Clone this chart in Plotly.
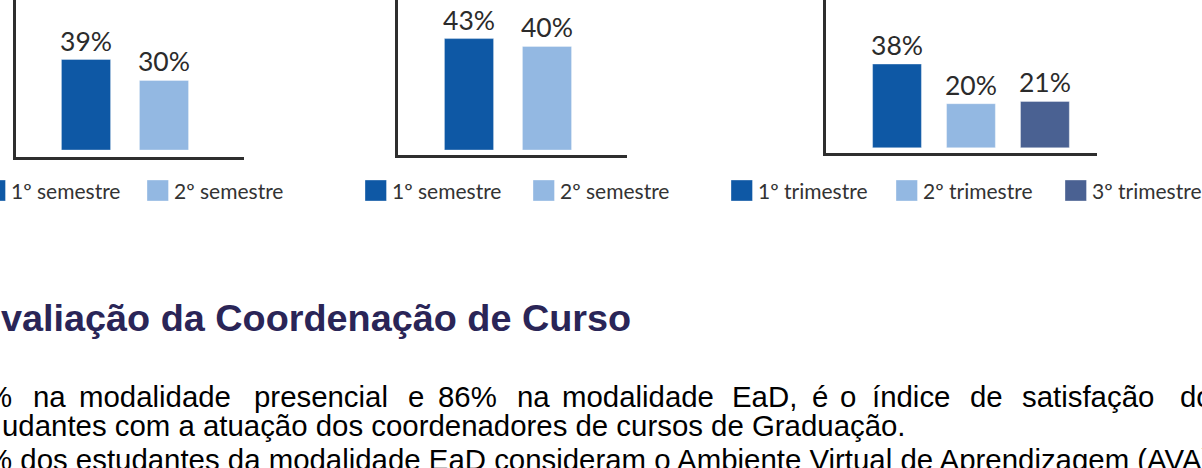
import plotly.graph_objects as go

# ---------------- data ----------------
semester_labels = ["1º semestre", "2º semestre"]
trimester_labels = ["1º trimestre", "2º trimestre", "3º trimestre"]
chart1_values = [39, 30]
chart2_values = [43, 40]
chart3_values = [38, 20, 21]
series_colors = ["#0E58A5", "#93B8E2", "#4A6192"]

heading_text = "valiação da Coordenação de Curso"
line1_words = ["%", "na", "modalidade", "presencial", "e", "86%", "na", "modalidade",
               "EaD,", "é", "o", "índice", "de", "satisfação", "dos"]
line2_text = "udantes com a atuação dos coordenadores de cursos de Graduação."
line3_text = "% dos estudantes da modalidade EaD consideram o Ambiente Virtual de Aprendizagem (AVA)"

# ---------------- layout helpers ----------------
W, H = 1202, 468


def fx(px):
    return px / W


def fy(py):
    return 1 - py / H


charts = [
    dict(values=chart1_values, labels=semester_labels, x0=15.5, x1=244, y1=156.5,
         xr=[-0.904, 2.026], yr=[-2.8, 64.66], bw=0.63, leg=[-16, 147]),
    dict(values=chart2_values, labels=semester_labels, x0=397.8, x1=627, y1=154.8,
         xr=[-0.913, 2.026], yr=[-1.85, 57.9], bw=0.63, leg=[365, 533]),
    dict(values=chart3_values, labels=trimester_labels, x0=825.7, x1=1096.7, y1=153,
         xr=[-0.964, 2.70], yr=[-2.4, 67.1], bw=0.66, leg=[731, 896, 1065]),
]

fig = go.Figure()
shapes = []
annotations = []
axis_line = "#2E2E2E"

for i, c in enumerate(charts):
    n = "" if i == 0 else str(i + 1)
    cols = series_colors[:len(c["values"])]
    fig.add_trace(go.Bar(
        x=c["labels"], y=c["values"],
        xaxis="x" + n, yaxis="y" + n,
        width=c["bw"],
        marker=dict(color=cols, line=dict(color="rgba(255,255,255,0.35)", width=1)),
        text=[f"{v}%" for v in c["values"]],
        textposition="outside",
        constraintext="none",
        cliponaxis=False,
        textfont=dict(family="Lato", size=26.5, color="#2B2B2B"),
        showlegend=False,
        hoverinfo="skip",
    ))
    fig.layout["xaxis" + n] = dict(
        domain=[fx(c["x0"]), fx(c["x1"])], anchor="y" + n,
        type="category", categoryorder="array", categoryarray=c["labels"],
        range=c["xr"], showline=True, linecolor=axis_line, linewidth=3,
        showticklabels=False, ticks="", showgrid=False, zeroline=False,
        fixedrange=True,
    )
    fig.layout["yaxis" + n] = dict(
        domain=[fy(c["y1"]), 1], anchor="x" + n,
        range=c["yr"], showline=True, linecolor=axis_line, linewidth=3,
        showticklabels=False, ticks="", showgrid=False, zeroline=False,
        fixedrange=True,
    )
    # legend chips + labels
    for lab, col, lx in zip(c["labels"], cols, c["leg"]):
        shapes.append(dict(
            type="rect", xref="paper", yref="paper",
            x0=fx(lx), x1=fx(lx + 21.5), y0=fy(201), y1=fy(180),
            fillcolor=col, line=dict(color="rgba(255,255,255,0.35)", width=1),
        ))
        annotations.append(dict(
            text=lab, xref="paper", yref="paper",
            x=fx(lx + 25.5), y=fy(190.7), xanchor="left", yanchor="middle",
            showarrow=False, borderpad=0,
            font=dict(family="Lato", size=21, color="#333333"),
        ))

# heading
annotations.append(dict(
    text=heading_text, xref="paper", yref="paper",
    x=fx(0), y=fy(296), xanchor="left", yanchor="top",
    showarrow=False, borderpad=0,
    font=dict(family="Liberation Sans", size=37.8, color="#2A2557", weight="bold"),
))

# paragraph: justified first line, word by word
para_font = dict(family="Liberation Sans", size=29.4, color="#000000")
line1_x = [-15, 31.5, 78, 253, 407, 437, 515.5, 561, 731, 811, 839, 871, 969, 1021, 1179]
for w, x in zip(line1_words, line1_x):
    annotations.append(dict(
        text=w, xref="paper", yref="paper",
        x=fx(x), y=fy(378.5), xanchor="left", yanchor="top",
        showarrow=False, borderpad=0, font=para_font,
    ))
annotations.append(dict(
    text=line2_text, xref="paper", yref="paper",
    x=fx(0.5), y=fy(407.5), xanchor="left", yanchor="top",
    showarrow=False, borderpad=0, font=para_font,
))
annotations.append(dict(
    text=line3_text, xref="paper", yref="paper",
    x=fx(-15), y=fy(441.5), xanchor="left", yanchor="top",
    showarrow=False, borderpad=0, font=para_font,
))

fig.update_layout(
    width=W, height=H,
    margin=dict(l=0, r=0, t=0, b=0),
    paper_bgcolor="white", plot_bgcolor="white",
    shapes=shapes, annotations=annotations,
    showlegend=False,
)

fig.write_html("out.html", config={"displayModeBar": False})
